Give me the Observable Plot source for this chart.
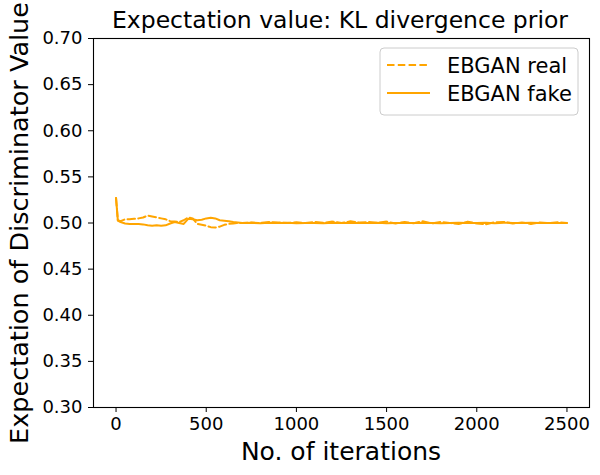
<!DOCTYPE html>
<html>
<head>
<meta charset="utf-8">
<script src="https://cdn.jsdelivr.net/npm/d3@7"></script>
<script src="https://cdn.jsdelivr.net/npm/@observablehq/plot@0.6"></script>
<style>
  html, body { margin: 0; padding: 0; background: #fff; }
  svg { display: block; }
</style>
</head>
<body>
<div id="chart"></div>
<script>
const titleText = "Expectation value: KL divergence prior";
const xLabel = "No. of iterations";
const yLabel = "Expectation of Discriminator Value";
const seriesNames = ["EBGAN real", "EBGAN fake"];
const xTicks = [0, 500, 1000, 1500, 2000, 2500];
const yTicks = [0.30, 0.35, 0.40, 0.45, 0.50, 0.55, 0.60, 0.65, 0.70];

const iterations = [0, 10, 25, 50, 75, 100, 125, 150, 175, 200, 225, 250, 275, 300, 325, 350, 375, 400, 425, 450, 475, 500, 525, 550, 575, 600, 625, 650, 675, 700,
  750, 800, 850, 900, 950, 1000, 1050, 1100, 1150, 1200, 1250, 1300, 1350, 1400, 1450, 1500, 1550, 1600, 1650, 1700, 1750, 1800, 1850, 1900, 1950, 2000, 2050, 2100, 2150, 2200, 2250, 2300, 2350, 2400, 2450, 2500];

const realValues = [0.527, 0.503, 0.502, 0.504, 0.504, 0.5045, 0.505, 0.506, 0.508, 0.507, 0.506, 0.505, 0.504, 0.502, 0.5015, 0.501, 0.503, 0.506, 0.505, 0.499, 0.498, 0.497, 0.4955, 0.495, 0.496, 0.498, 0.499, 0.4995, 0.500, 0.500,
  0.5005, 0.500, 0.501, 0.5005, 0.500, 0.5008, 0.500, 0.5012, 0.5002, 0.5015, 0.500, 0.5018, 0.5005, 0.501, 0.5002, 0.5015, 0.4995, 0.5012, 0.4998, 0.5018, 0.4995, 0.5012, 0.500, 0.499, 0.5015, 0.4995, 0.4985, 0.5008, 0.5012, 0.4995, 0.5005, 0.499, 0.5005, 0.500, 0.5008, 0.500];

const fakeValues = [0.527, 0.5025, 0.501, 0.4995, 0.499, 0.499, 0.499, 0.4985, 0.4975, 0.497, 0.4975, 0.497, 0.4975, 0.4995, 0.501, 0.500, 0.499, 0.5045, 0.504, 0.503, 0.5035, 0.505, 0.5056, 0.505, 0.503, 0.5025, 0.502, 0.501, 0.5005, 0.500,
  0.5002, 0.4998, 0.5003, 0.5, 0.5002, 0.4998, 0.5001, 0.5, 0.4998, 0.5002, 0.5, 0.5003, 0.4999, 0.5, 0.5002, 0.4998, 0.5, 0.5001, 0.4999, 0.5003, 0.5, 0.4998, 0.5001, 0.5002, 0.4999, 0.5, 0.5002, 0.4998, 0.5003, 0.5001, 0.4999, 0.5002, 0.5, 0.4999, 0.5001, 0.5];

const orange = "#ffa500";
const fontFamily = "DejaVu Sans, sans-serif";

const realData = iterations.map((x, i) => ({x, y: realValues[i]}));
const fakeData = iterations.map((x, i) => ({x, y: fakeValues[i]}));

const plot = Plot.plot({
  width: 600,
  height: 475,
  marginLeft: 93,
  marginRight: 11,
  marginTop: 38,
  marginBottom: 68,
  style: {fontFamily, background: "white", overflow: "visible"},
  x: {domain: [-125, 2625]},
  y: {domain: [0.30, 0.70]},
  marks: [
    Plot.axisX({ticks: xTicks, tickSize: 5, tickPadding: 5, fontSize: 18, tickFormat: d => String(d), label: null, stroke: "black", color: "black"}),
    Plot.axisY({ticks: yTicks, tickSize: 5, tickPadding: 6, fontSize: 18, tickFormat: d3.format(".2f"), label: null, stroke: "black", color: "black"}),
    Plot.line(realData, {x: "x", y: "y", stroke: orange, strokeWidth: 2, strokeDasharray: "7.5,3.3"}),
    Plot.line(fakeData, {x: "x", y: "y", stroke: orange, strokeWidth: 2}),
    Plot.frame({stroke: "black", strokeWidth: 1.1})
  ]
});

const svg = d3.select(plot);
svg.append("text")
  .attr("x", 340).attr("y", 28)
  .attr("text-anchor", "middle")
  .attr("font-size", 23.5).attr("fill", "black")
  .attr("font-family", fontFamily)
  .text(titleText);
svg.append("text")
  .attr("x", 341).attr("y", 460)
  .attr("text-anchor", "middle")
  .attr("font-size", 25).attr("fill", "black")
  .attr("font-family", fontFamily)
  .text(xLabel);
svg.append("text")
  .attr("transform", "translate(28,223) rotate(-90)")
  .attr("text-anchor", "middle")
  .attr("font-size", 25.5).attr("fill", "black")
  .attr("font-family", fontFamily)
  .text(yLabel);

const lg = svg.append("g");
lg.append("rect")
  .attr("x", 380).attr("y", 48).attr("width", 198).attr("height", 67)
  .attr("rx", 4).attr("fill", "white").attr("fill-opacity", 0.8)
  .attr("stroke", "#cccccc").attr("stroke-width", 1);
const dashes = ["7.5,3.3", null];
seriesNames.forEach((name, i) => {
  const yy = 65 + i * 28;
  const ln = lg.append("line")
    .attr("x1", 387).attr("x2", 430).attr("y1", yy).attr("y2", yy)
    .attr("stroke", orange).attr("stroke-width", 2);
  if (dashes[i]) ln.attr("stroke-dasharray", dashes[i]);
  lg.append("text")
    .attr("x", 447).attr("y", yy + 7.5)
    .attr("text-anchor", "start")
    .attr("font-size", 21).attr("fill", "black")
    .attr("font-family", fontFamily)
    .text(name);
});

document.getElementById("chart").appendChild(plot);
</script>
</body>
</html>
